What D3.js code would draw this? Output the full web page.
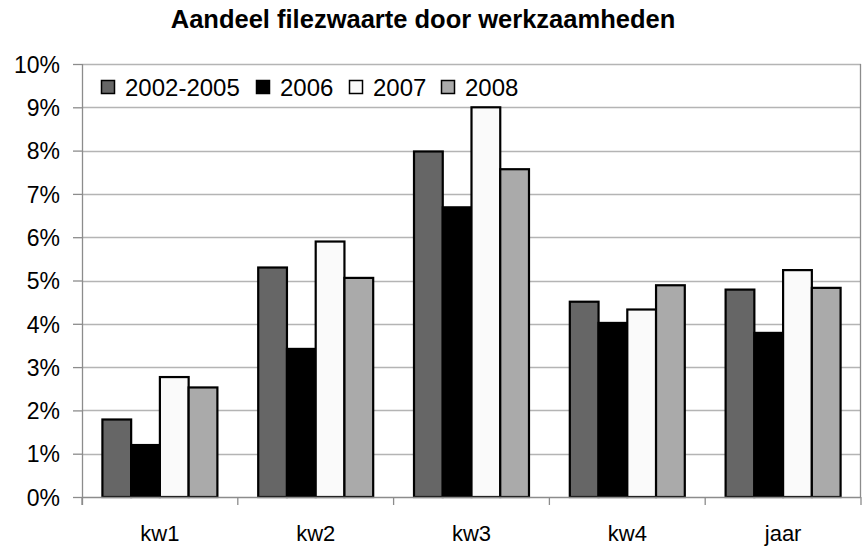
<!DOCTYPE html>
<html>
<head>
<meta charset="utf-8">
<script src="https://cdn.jsdelivr.net/npm/d3@7"></script>
<style>
  body { margin: 0; background: #fff; }
  svg text { font-family: "Liberation Sans", Arial, sans-serif; fill: #000; }
  .title { font-size: 25.5px; font-weight: bold; }
  .y.axis text { font-size: 23px; }
  .x.axis text { font-size: 22px; }
  .legend text { font-size: 24px; }
</style>
</head>
<body>
<svg id="chart" width="863" height="546"></svg>
<script>
// data
const categories = ['kw1', 'kw2', 'kw3', 'kw4', 'jaar'];
const seriesNames = ['2002-2005', '2006', '2007', '2008'];
const s2002_2005 = [1.79, 5.30, 7.98, 4.51, 4.79];
const s2006 = [1.20, 3.42, 6.69, 4.02, 3.79];
const s2007 = [2.77, 5.90, 9.00, 4.33, 5.24];
const s2008 = [2.53, 5.06, 7.57, 4.89, 4.83];
const yTicks = [0, 1, 2, 3, 4, 5, 6, 7, 8, 9, 10];

const seriesValues = [s2002_2005, s2006, s2007, s2008];
const colors = ['#666666', '#000000', '#fafafa', '#aaaaaa'];

const margin = {top: 64, right: 2, bottom: 49, left: 82};
const svg = d3.select('#chart');
const width = +svg.attr('width') - margin.left - margin.right;
const height = +svg.attr('height') - margin.top - margin.bottom;

svg.append('text')
    .attr('class', 'title')
    .attr('x', 423)
    .attr('y', 28)
    .attr('text-anchor', 'middle')
    .text('Aandeel filezwaarte door werkzaamheden');

const chart = svg.append('g')
    .attr('transform', 'translate(' + margin.left + ',' + margin.top + ')');

const x0 = d3.scaleBand().domain(categories).range([0, width]).paddingInner(0).paddingOuter(0);
const x1 = d3.scaleBand().domain(seriesNames).range([0, x0.bandwidth()]).paddingOuter(0.71).paddingInner(0);
const y = d3.scaleLinear().domain([0, 10]).range([height, 0]);

// gridlines
chart.selectAll('.grid').data(yTicks.slice(1)).enter()
    .append('line')
    .attr('class', 'grid')
    .attr('x1', 0).attr('x2', width)
    .attr('y1', d => Math.round(y(d)) + 0.5)
    .attr('y2', d => Math.round(y(d)) + 0.5)
    .attr('stroke', '#b4b4b4')
    .attr('stroke-width', 1.3);

// right border of the plot area
chart.append('line')
    .attr('x1', width - 0.5).attr('x2', width - 0.5)
    .attr('y1', 0).attr('y2', height)
    .attr('stroke', '#8c8c8c')
    .attr('stroke-width', 1.3);

// bars
const groups = chart.selectAll('.cat').data(categories).enter()
    .append('g')
    .attr('class', 'cat')
    .attr('transform', d => 'translate(' + x0(d) + ',0)');

groups.selectAll('rect')
    .data((c, ci) => seriesNames.map((s, si) => ({s: s, si: si, v: seriesValues[si][ci]})))
    .enter()
    .append('rect')
    .attr('x', d => x1(d.s))
    .attr('y', d => y(d.v))
    .attr('width', x1.bandwidth())
    .attr('height', d => height - y(d.v))
    .attr('fill', d => colors[d.si])
    .attr('stroke', '#000')
    .attr('stroke-width', 2.2);

// y axis
const yAxis = chart.append('g')
    .attr('class', 'y axis')
    .call(d3.axisLeft(y).tickValues(yTicks).tickFormat(d => d + '%').tickSize(9).tickPadding(13));
yAxis.select('.domain').attr('stroke', '#8c8c8c').attr('stroke-width', 1.3).attr('d', 'M0.5,0V' + (height + 8));
yAxis.selectAll('.tick line').attr('stroke', '#8c8c8c').attr('stroke-width', 1.3);
yAxis.selectAll('.tick text').attr('dy', '0.36em');

// x axis
const xAxis = chart.append('g')
    .attr('class', 'x axis')
    .attr('transform', 'translate(0,' + height + ')')
    .call(d3.axisBottom(x0).tickSize(0).tickPadding(28));
xAxis.select('.domain').attr('stroke', '#8c8c8c').attr('stroke-width', 1.3).attr('d', 'M0,0.5H' + width);
xAxis.selectAll('.sep').data(d3.range(categories.length + 1)).enter()
    .append('line')
    .attr('class', 'sep')
    .attr('x1', i => i * x0.step()).attr('x2', i => i * x0.step())
    .attr('y1', 0).attr('y2', 8)
    .attr('stroke', '#8c8c8c')
    .attr('stroke-width', 1.3);

// legend
const legend = chart.append('g')
    .attr('class', 'legend')
    .attr('transform', 'translate(19,23)');
const legendX = [0, 155, 248, 340];
const items = legend.selectAll('g').data(seriesNames).enter()
    .append('g')
    .attr('transform', (d, i) => 'translate(' + legendX[i] + ',0)');
items.append('rect')
    .attr('x', 0.5).attr('y', -6.5)
    .attr('width', 13).attr('height', 13)
    .attr('fill', (d, i) => colors[i])
    .attr('stroke', '#000')
    .attr('stroke-width', 1.5);
items.append('text')
    .attr('x', 24)
    .attr('dy', '0.36em')
    .text(d => d);
</script>
</body>
</html>
